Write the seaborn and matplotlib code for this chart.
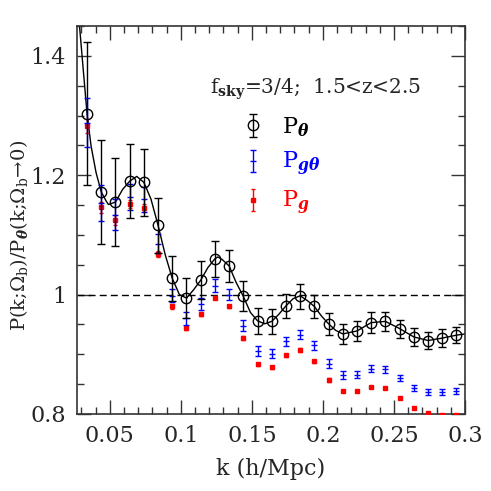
import matplotlib
matplotlib.use("Agg")
import matplotlib.pyplot as plt
import matplotlib.ticker as mticker
import numpy as np
import pandas as pd
import seaborn as sns

# bin centres (h/Mpc)
k_bins = [0.034, 0.044, 0.054, 0.064, 0.074, 0.084, 0.094, 0.104, 0.114,
          0.124, 0.134, 0.144, 0.154, 0.164, 0.174, 0.184, 0.194, 0.204,
          0.214, 0.224, 0.234, 0.244, 0.254, 0.264, 0.274, 0.284, 0.294]

# P_theta ratio and errors
p_theta = [1.303, 1.172, 1.155, 1.190, 1.188, 1.116, 1.027, 0.994, 1.024,
           1.060, 1.048, 0.997, 0.956, 0.955, 0.981, 0.997, 0.980, 0.951,
           0.934, 0.939, 0.953, 0.955, 0.943, 0.929, 0.923, 0.927, 0.932]
p_theta_err = [0.120, 0.087, 0.074, 0.062, 0.056, 0.046, 0.038, 0.034, 0.032,
               0.030, 0.027, 0.025, 0.022, 0.021, 0.020, 0.021, 0.019, 0.018,
               0.017, 0.017, 0.017, 0.016, 0.015, 0.015, 0.015, 0.0145, 0.014]

# P_g-theta ratio and errors
p_gtheta = [1.288, 1.153, 1.134, 1.164, 1.160, 1.085, 0.998, 0.960, 0.984,
            1.015, 1.000, 0.948, 0.905, 0.901, 0.922, 0.933, 0.915, 0.884,
            0.865, 0.866, 0.876, 0.875, 0.860, 0.844, 0.837, 0.837, 0.838]
p_gtheta_err = [0.041, 0.030, 0.026, 0.022, 0.021, 0.016, 0.011, 0.011, 0.010,
                0.011, 0.009, 0.009, 0.0085, 0.008, 0.0075, 0.008, 0.0075, 0.0075,
                0.007, 0.0065, 0.006, 0.006, 0.005, 0.005, 0.005, 0.005, 0.005]

# P_g ratio and errors
p_g = [1.282, 1.146, 1.125, 1.152, 1.145, 1.068, 0.980, 0.944, 0.967,
       0.995, 0.980, 0.927, 0.883, 0.878, 0.898, 0.907, 0.888, 0.857,
       0.838, 0.838, 0.845, 0.843, 0.827, 0.810, 0.801, 0.7985, 0.7985]
p_g_err = [0.012, 0.009, 0.008, 0.007, 0.006, 0.005, 0.004, 0.004, 0.003,
           0.003, 0.003, 0.003, 0.003, 0.003, 0.003, 0.003, 0.003, 0.003,
           0.002, 0.002, 0.002, 0.002, 0.002, 0.002, 0.002, 0.002, 0.002]

# theory curve
curve_k = [0.027, 0.0287, 0.034, 0.0369, 0.0404, 0.044, 0.0474, 0.049, 0.054,
           0.059, 0.064, 0.069, 0.074, 0.079, 0.084, 0.089, 0.094, 0.099,
           0.104, 0.109, 0.114, 0.119, 0.124, 0.126, 0.129, 0.134, 0.139,
           0.144, 0.149, 0.154, 0.159, 0.164, 0.169, 0.174, 0.179, 0.184,
           0.189, 0.194, 0.199, 0.204, 0.209, 0.214, 0.224, 0.234, 0.244,
           0.254, 0.264, 0.274, 0.284, 0.294, 0.300]
curve_v = [1.50, 1.45, 1.303, 1.248, 1.204, 1.172, 1.157, 1.151, 1.155,
           1.176, 1.190, 1.198, 1.188, 1.160, 1.116, 1.067, 1.027, 1.000,
           0.994, 1.008, 1.024, 1.045, 1.060, 1.063, 1.059, 1.048, 1.020,
           0.997, 0.970, 0.956, 0.951, 0.955, 0.967, 0.981, 0.993, 0.998,
           0.990, 0.980, 0.964, 0.951, 0.940, 0.934, 0.939, 0.953, 0.955,
           0.943, 0.929, 0.923, 0.927, 0.932, 0.934]

x_ticks = [0.05, 0.1, 0.15, 0.2, 0.25, 0.3]
y_ticks = [0.8, 1.0, 1.2, 1.4]


def main():
    sns.set_style("ticks")
    plt.rcParams["font.family"] = ["DejaVu Serif"]
    plt.rcParams["mathtext.fontset"] = "dejavuserif"
    plt.rcParams["font.size"] = 14

    fig = plt.figure(figsize=(4.91, 4.91), dpi=100)
    ax = fig.add_axes([0.157, 0.157, 0.79, 0.79])

    curve = pd.DataFrame({"k": curve_k, "v": curve_v})
    sns.lineplot(data=curve, x="k", y="v", color="black", lw=1.0, ax=ax,
                 sort=False, estimator=None)
    ax.axhline(1.0, color="black", ls=(0, (5, 3)), lw=1.0)

    h_g = ax.errorbar(k_bins, p_g, yerr=p_g_err, fmt="s", color="red",
                      ms=3.2, elinewidth=1.0, capsize=1.5, capthick=1.0,
                      label=r"P$_{\mathbfit{g}}$", zorder=3)
    h_gt = ax.errorbar(k_bins, p_gtheta, yerr=p_gtheta_err, fmt="_",
                       color="blue", ms=4, elinewidth=1.0, capsize=2,
                       capthick=1.0, label=r"P$_{\mathbfit{g\theta}}$",
                       zorder=4)
    h_t = ax.errorbar(k_bins, p_theta, yerr=p_theta_err, fmt="o", mfc="none",
                      mec="black", color="black", ms=7.5, mew=1.0,
                      elinewidth=1.0, capsize=3.2, capthick=1.0,
                      label=r"P$_{\mathbfit{\theta}}$", zorder=5)

    ax.set_xlim(0.027, 0.3)
    ax.set_ylim(0.8, 1.45)
    ax.set_xticks(x_ticks)
    ax.set_yticks(y_ticks)
    ax.xaxis.set_minor_locator(mticker.MultipleLocator(0.01))
    ax.yaxis.set_minor_locator(mticker.MultipleLocator(0.05))
    fmt = mticker.FuncFormatter(lambda v, p: "%g" % round(v, 3))
    ax.xaxis.set_major_formatter(fmt)
    ax.yaxis.set_major_formatter(fmt)
    ax.tick_params(which="both", direction="in", top=True, right=True,
                   color="#333333", width=1.0, labelsize=16)
    ax.tick_params(which="major", length=10, pad=8)
    ax.tick_params(which="minor", length=5)
    for s in ax.spines.values():
        s.set_linewidth(1.2)
        s.set_color("#333333")

    ax.set_xlabel("k (h/Mpc)", fontsize=16, labelpad=8)
    ax.set_ylabel(r"P(k;$\Omega_\mathrm{b}$)/P$_{\mathbfit{\theta}}$(k;$\Omega_\mathrm{b}\!\rightarrow\!$0)",
                  fontsize=14)
    ax.yaxis.set_label_coords(-0.122, 0.46)

    ax.text(0.343, 0.838, r"f$_{\mathbf{sky}}$=3/4;  1.5<z<2.5",
            transform=ax.transAxes, ha="left", va="center", fontsize=14.5)

    leg = ax.legend(handles=[h_t, h_gt, h_g], loc="upper left",
                    bbox_to_anchor=(0.425, 0.77), frameon=False,
                    handlelength=1.0, handletextpad=0.8, labelspacing=0.5,
                    borderpad=0, borderaxespad=0, fontsize=16)
    for txt, c in zip(leg.get_texts(), ["black", "blue", "red"]):
        txt.set_color(c)

    fig.savefig("out.png", dpi=100)


if __name__ == "__main__":
    main()
